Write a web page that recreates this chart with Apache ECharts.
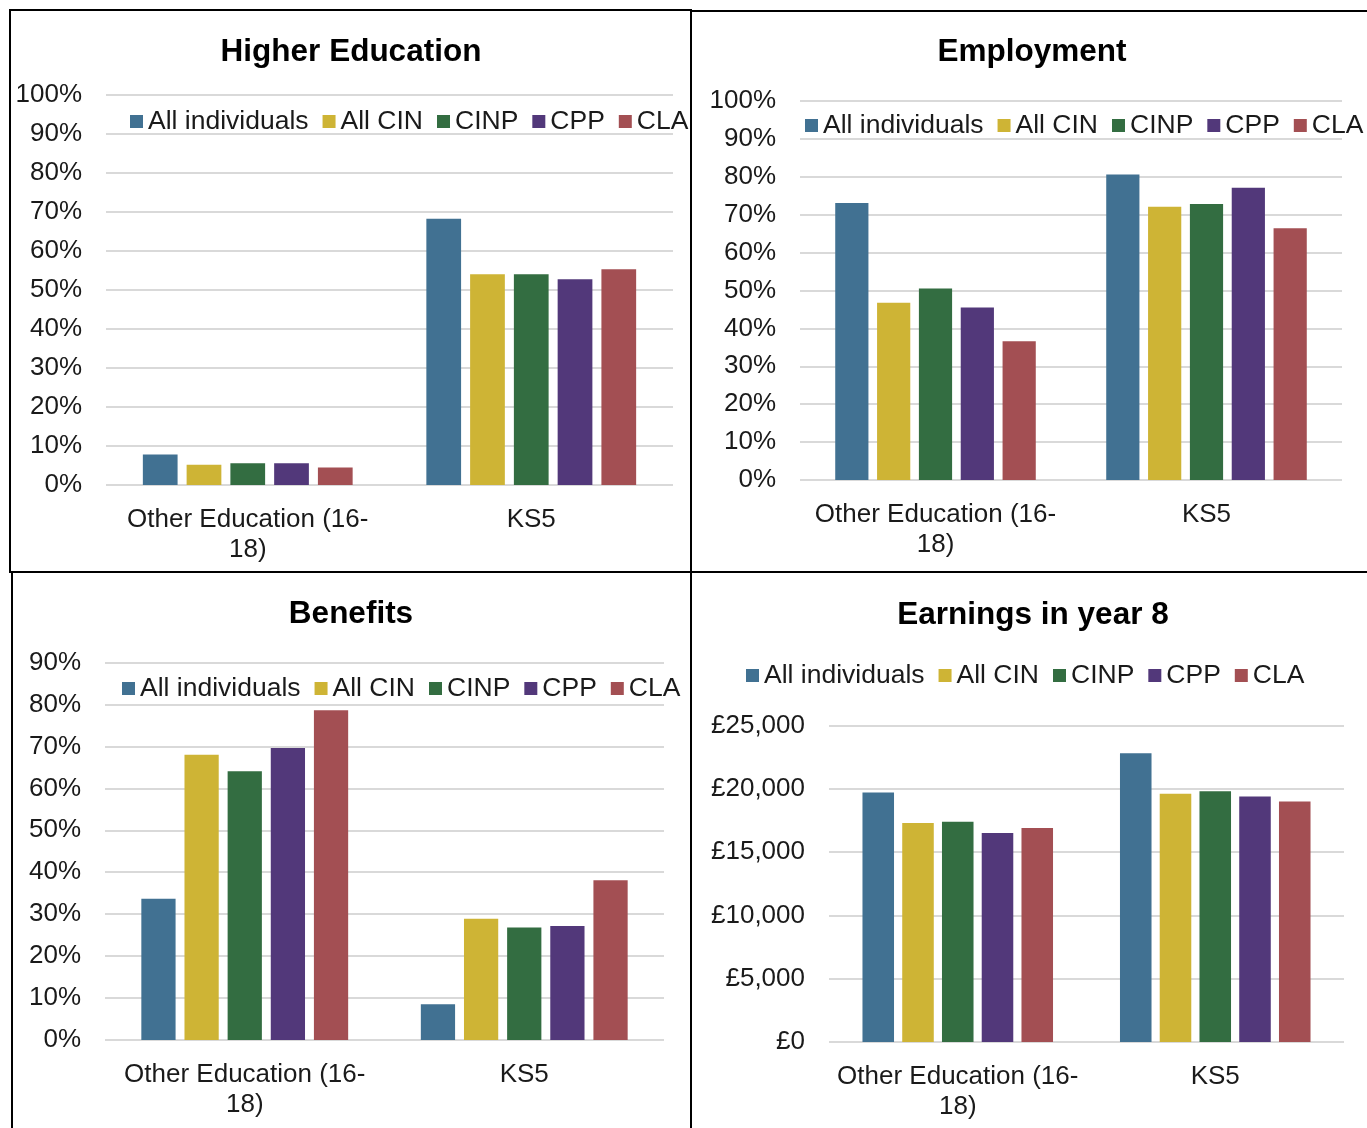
<!DOCTYPE html>
<html>
<head>
<meta charset="utf-8">
<script src="https://cdn.jsdelivr.net/npm/echarts@6/dist/echarts.min.js"></script>
<style>
  html, body { margin: 0; padding: 0; background: #fff; }
  #chart { width: 1367px; height: 1128px; }
</style>
</head>
<body>
<div id="chart"></div>
<script>
// ---- Data ----
const categories = ['Other Education (16-18)', 'KS5'];
const groups = ['All individuals', 'All CIN', 'CINP', 'CPP', 'CLA'];
const groupColors = ['#417192', '#CEB435', '#336D41', '#52387A', '#A34F53'];

const higherEducationOther = [7.8, 5.2, 5.6, 5.6, 4.5];
const higherEducationKS5   = [68.2, 54.0, 54.0, 52.7, 55.3];

const employmentOther = [73.1, 46.8, 50.5, 45.5, 36.6];
const employmentKS5   = [80.6, 72.1, 72.8, 77.1, 66.4];

const benefitsOther = [33.7, 68.0, 64.1, 69.6, 78.6];
const benefitsKS5   = [8.5, 28.9, 26.8, 27.2, 38.1];

const earningsOther = [19700, 17300, 17400, 16500, 16900];
const earningsKS5   = [22800, 19600, 19800, 19400, 19000];

const panelTitles = ['Higher Education', 'Employment', 'Benefits', 'Earnings in year 8'];

// ---- Styling / layout ----
const FONT = '"Liberation Sans", Arial, sans-serif';
const TEXT = '#1a1a1a';

const panels = [
  { title: panelTitles[0], titleX: 351, titleY: 52, legendX: 130, legendY: 121,
    grid: { left: 106, top: 94.7, width: 567, height: 390.3 }, max: 100, interval: 10,
    other: higherEducationOther, ks5: higherEducationKS5, money: false },
  { title: panelTitles[1], titleX: 1032, titleY: 52, legendX: 805, legendY: 125,
    grid: { left: 800, top: 101, width: 542, height: 379 }, max: 100, interval: 10,
    other: employmentOther, ks5: employmentKS5, money: false },
  { title: panelTitles[2], titleX: 351, titleY: 614, legendX: 122, legendY: 688,
    grid: { left: 105, top: 662.5, width: 559, height: 377.5 }, max: 90, interval: 10,
    other: benefitsOther, ks5: benefitsKS5, money: false },
  { title: panelTitles[3], titleX: 1033, titleY: 615, legendX: 746, legendY: 675,
    grid: { left: 829, top: 725.5, width: 515, height: 316.5 }, max: 25000, interval: 5000,
    other: earningsOther, ks5: earningsKS5, money: true }
];

function fmtMoney(v) {
  return '£' + String(v).replace(/\B(?=(\d{3})+(?!\d))/g, ',');
}

const option = {
  animation: false,
  backgroundColor: '#fff',
  textStyle: { fontFamily: FONT },
  title: [], legend: [], grid: [], xAxis: [], yAxis: [], series: [],
  graphic: [
    { type: 'rect', shape: { x: 10, y: 10, width: 681, height: 562 }, style: { fill: 'none', stroke: '#000', lineWidth: 2 }, z: 100 },
    { type: 'rect', shape: { x: 691, y: 11, width: 700, height: 561 }, style: { fill: 'none', stroke: '#000', lineWidth: 2 }, z: 100 },
    { type: 'rect', shape: { x: 12, y: 572, width: 679, height: 600 }, style: { fill: 'none', stroke: '#000', lineWidth: 2 }, z: 100 },
    { type: 'rect', shape: { x: 691, y: 572, width: 700, height: 600 }, style: { fill: 'none', stroke: '#000', lineWidth: 2 }, z: 100 }
  ]
};

panels.forEach((p, i) => {
  option.title.push({
    text: p.title, left: p.titleX, top: p.titleY - 16, textAlign: 'center', padding: 0,
    textStyle: { fontFamily: FONT, fontSize: 31.5, fontWeight: 'bold', color: '#000' }
  });
  option.legend.push({
    data: groups, left: p.legendX, top: p.legendY - 13, width: 700, padding: 0,
    itemWidth: 13, itemHeight: 13, itemGap: 14, icon: 'rect', selectedMode: false,
    textStyle: { fontFamily: FONT, fontSize: 26.5, color: TEXT, padding: [0, 0, 0, 0] }
  });
  option.grid.push(Object.assign({ outerBoundsMode: 'none', containLabel: false }, p.grid));
  option.xAxis.push({
    type: 'category', gridIndex: i, data: categories,
    axisLine: { show: false }, axisTick: { show: false },
    axisLabel: {
      interval: 0, margin: 20, fontFamily: FONT, fontSize: 26, color: TEXT, lineHeight: 30,
      formatter: v => v.replace('(16-', '(16-\n')
    }
  });
  option.yAxis.push({
    type: 'value', gridIndex: i, min: 0, max: p.max, interval: p.interval,
    axisLine: { show: false }, axisTick: { show: false },
    splitLine: { show: true, lineStyle: { color: '#d9d9d9', width: 2 } },
    axisLabel: {
      margin: 24, fontFamily: FONT, fontSize: 26, color: TEXT,
      formatter: p.money ? fmtMoney : (v => v + '%')
    }
  });
  groups.forEach((g, k) => {
    option.series.push({
      type: 'bar', name: g, xAxisIndex: i, yAxisIndex: i,
      data: [p.other[k], p.ks5[k]],
      barCategoryGap: '26%', barGap: '26%',
      itemStyle: { color: groupColors[k] }
    });
  });
});

const chart = echarts.init(document.getElementById('chart'), null, { renderer: 'canvas' });
chart.setOption(option);
</script>
</body>
</html>
